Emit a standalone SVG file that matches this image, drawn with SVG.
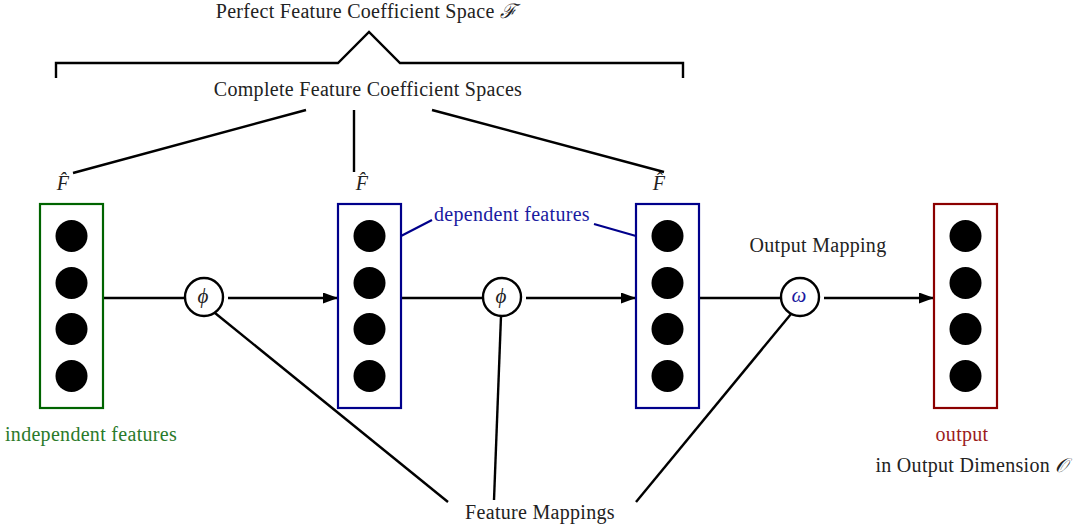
<svg xmlns="http://www.w3.org/2000/svg" width="1083" height="527" viewBox="0 0 1083 527">
  <style>
    text { font-family: "Liberation Serif", "DejaVu Serif", serif; font-size: 20px; letter-spacing: 0.3px; fill: #222; text-anchor: middle; }
    .it { font-style: italic; }
    .sym { font-size: 21px; letter-spacing: 0; }
    .line { stroke: #000; stroke-width: 2.4; fill: none; }
    .dot { fill: #000; }
    .circ { fill: #fff; stroke: #000; stroke-width: 2.4; }
    .box { fill: #fff; stroke-width: 2.2; }
  </style>
  <defs>
    <marker id="arrow" viewBox="0 0 15 11" refX="15" refY="5.5" markerWidth="15" markerHeight="11" markerUnits="userSpaceOnUse" orient="auto">
      <path d="M0,0 L15,5.5 L0,11 Z" fill="#000"/>
    </marker>
  </defs>
  <rect width="1083" height="527" fill="#fff"/>

  <!-- brace and coefficient space labels -->
  <g id="brace">
    <path class="line" d="M56,78 V63 H338 L369,32 L400,63 H683 V78"/>
    <text x="366" y="18">Perfect Feature Coefficient Space <tspan font-family="DejaVu Serif" class="it">ℱ</tspan></text>
    <text x="368" y="96">Complete Feature Coefficient Spaces</text>
  </g>

  <!-- connectors -->
  <g id="connectors">
    <line class="line" x1="306" y1="110" x2="73" y2="173"/>
    <line class="line" x1="354" y1="110" x2="354" y2="172"/>
    <line class="line" x1="432" y1="110" x2="664" y2="172"/>
    <line class="line" x1="103" y1="298" x2="185" y2="298"/>
    <line class="line" x1="228" y1="298" x2="338" y2="298" marker-end="url(#arrow)"/>
    <line class="line" x1="401" y1="298" x2="483" y2="298"/>
    <line class="line" x1="526" y1="298" x2="636" y2="298" marker-end="url(#arrow)"/>
    <line class="line" x1="699" y1="298" x2="781" y2="298"/>
    <line class="line" x1="824" y1="298" x2="934" y2="298" marker-end="url(#arrow)"/>
    <line class="line" x1="215" y1="313" x2="448" y2="502"/>
    <line class="line" x1="501" y1="316" x2="494" y2="500"/>
    <line class="line" x1="791" y1="314" x2="636" y2="502"/>
    <line x1="401" y1="236" x2="432" y2="220" stroke="#00008b" stroke-width="2.2"/>
    <line x1="594" y1="224" x2="636" y2="236" stroke="#00008b" stroke-width="2.2"/>
  </g>

  <!-- input layer -->
  <g id="input">
    <rect class="box" x="40" y="204" width="63" height="204" stroke="#006400"/>
    <circle class="dot" cx="71.5" cy="236" r="16"/>
    <circle class="dot" cx="71.5" cy="283" r="16"/>
    <circle class="dot" cx="71.5" cy="329" r="16"/>
    <circle class="dot" cx="71.5" cy="376" r="16"/>
    <text x="63" y="190" class="it">F̂</text>
    <text x="91" y="441" style="fill:#2a7a2a">independent features</text>
  </g>

  <!-- hidden layer 1 -->
  <g id="hidden1">
    <rect class="box" x="338" y="204" width="63" height="204" stroke="#00008b"/>
    <circle class="dot" cx="369.5" cy="236" r="16"/>
    <circle class="dot" cx="369.5" cy="283" r="16"/>
    <circle class="dot" cx="369.5" cy="329" r="16"/>
    <circle class="dot" cx="369.5" cy="376" r="16"/>
    <text x="362" y="190" class="it">F̂</text>
  </g>

  <!-- hidden layer 2 -->
  <g id="hidden2">
    <rect class="box" x="636" y="204" width="63" height="204" stroke="#00008b"/>
    <circle class="dot" cx="667.5" cy="236" r="16"/>
    <circle class="dot" cx="667.5" cy="283" r="16"/>
    <circle class="dot" cx="667.5" cy="329" r="16"/>
    <circle class="dot" cx="667.5" cy="376" r="16"/>
    <text x="659" y="190" class="it">F̂</text>
  </g>

  <!-- output layer -->
  <g id="output">
    <rect class="box" x="934" y="204" width="63" height="204" stroke="#8b0000"/>
    <circle class="dot" cx="965.5" cy="236" r="16"/>
    <circle class="dot" cx="965.5" cy="283" r="16"/>
    <circle class="dot" cx="965.5" cy="329" r="16"/>
    <circle class="dot" cx="965.5" cy="376" r="16"/>
    <text x="962" y="441" style="fill:#9b1c1c">output</text>
    <text x="972" y="472">in Output Dimension <tspan font-family="DejaVu Serif" class="it">𝒪</tspan></text>
  </g>

  <!-- mapping nodes -->
  <g id="phi1">
    <circle class="circ" cx="204" cy="297" r="19"/>
    <text x="203" y="303" class="it sym">ϕ</text>
  </g>
  <g id="phi2">
    <circle class="circ" cx="502" cy="297" r="19"/>
    <text x="501" y="303" class="it sym">ϕ</text>
  </g>
  <g id="omega">
    <circle class="circ" cx="800" cy="297" r="19"/>
    <text x="799" y="302" class="it sym" style="fill:#1a1aa0">ω</text>
  </g>

  <!-- labels -->
  <g id="labels">
    <text x="512" y="221" style="fill:#1a1aa0">dependent features</text>
    <text x="818" y="252">Output Mapping</text>
    <text x="540" y="519">Feature Mappings</text>
  </g>
</svg>
